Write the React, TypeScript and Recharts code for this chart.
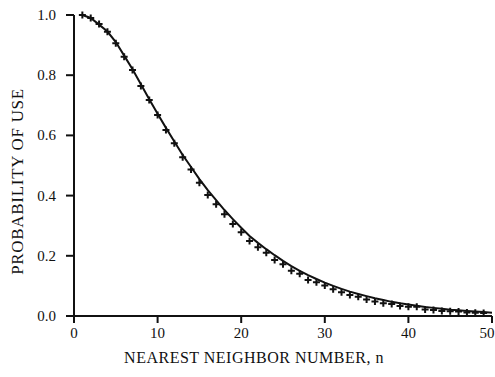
import React from 'react';
import { ComposedChart, Line, XAxis, YAxis, Label } from 'recharts';

const neighborN = [
  1, 2, 3, 4, 5, 6, 7, 8, 9, 10, 11, 12, 13, 14, 15, 16, 17, 18, 19, 20, 21, 22, 23, 24, 25,
  26, 27, 28, 29, 30, 31, 32, 33, 34, 35, 36, 37, 38, 39, 40, 41, 42, 43, 44, 45, 46, 47, 48, 49, 50,
];
const observed = [
  1.0, 0.99, 0.97, 0.944, 0.906, 0.861, 0.817, 0.764, 0.718, 0.668, 0.618, 0.574, 0.527, 0.487, 0.443,
  0.402, 0.371, 0.338, 0.306, 0.278, 0.249, 0.228, 0.21, 0.186, 0.172, 0.15, 0.14, 0.12, 0.112, 0.101,
  0.089, 0.079, 0.07, 0.064, 0.055, 0.048, 0.042, 0.04, 0.033, 0.031, 0.031, 0.022, 0.02, 0.017, 0.016,
  0.015, 0.012, 0.011, 0.01, null,
];
const fitted = [
  1.0, 0.99, 0.968, 0.945, 0.91, 0.865, 0.82, 0.77, 0.72, 0.672, 0.625, 0.58, 0.535, 0.495, 0.455,
  0.418, 0.385, 0.352, 0.322, 0.293, 0.266, 0.243, 0.222, 0.202, 0.183, 0.166, 0.15, 0.136, 0.123, 0.111,
  0.1, 0.09, 0.081, 0.073, 0.066, 0.059, 0.053, 0.047, 0.042, 0.038, 0.034, 0.03, 0.027, 0.024, 0.021,
  0.019, 0.017, 0.015, 0.013, 0.011,
];
const xTicks = [0, 10, 20, 30, 40, 50];
const yTicks = [0, 0.2, 0.4, 0.6, 0.8, 1.0];

const data = neighborN.map((n, i) => ({ n, obs: observed[i], fit: fitted[i] }));

const FONT = '"Liberation Serif", "DejaVu Serif", serif';
const INK = '#111111';

const PlusDot = (props: any) => {
  const { cx, cy, value } = props;
  if (value == null || cx == null || cy == null) return null;
  return (
    <path
      key={`p-${cx}`}
      d={`M${cx - 3.5},${cy} H${cx + 3.5} M${cx},${cy - 3.5} V${cy + 3.5}`}
      stroke={INK}
      strokeWidth={2}
    />
  );
};

// serif tick labels, drawn by hand so the font sticks
const XTick = ({ x, y, payload }: any) => (
  <text x={x} y={y} dy={11} textAnchor="middle" fill={INK} fontSize={15} fontFamily={FONT}>
    {payload.value}
  </text>
);
const YTick = ({ x, y, payload }: any) => (
  <text x={x} y={y} dy={5} textAnchor="end" fill={INK} fontSize={15} fontFamily={FONT}>
    {Number(payload.value).toFixed(1)}
  </text>
);

export default function App() {
  return (
    <div style={{ position: 'absolute', left: 0, top: 0, background: '#fff', fontFamily: FONT }}>
      <ComposedChart
        width={495}
        height={377}
        data={data}
        margin={{ top: 15, right: 3, bottom: 0, left: 0 }}
        style={{ fontFamily: FONT }}
      >
        <XAxis
          dataKey="n"
          type="number"
          domain={[0, 50]}
          ticks={xTicks}
          height={61}
          axisLine={{ stroke: INK, strokeWidth: 2 }}
          tickLine={{ stroke: INK, strokeWidth: 2 }}
          tickSize={7}
          tickMargin={4}
          tick={<XTick />}
        >
          <Label
            value="NEAREST NEIGHBOR NUMBER, n"
            position="insideBottom"
            offset={14}
            dx={-29}
            style={{ fill: INK, fontSize: 16, fontFamily: FONT, letterSpacing: 0.5 }}
          />
        </XAxis>
        <YAxis
          type="number"
          domain={[0, 1]}
          ticks={yTicks}
          width={74}
          axisLine={{ stroke: INK, strokeWidth: 2 }}
          tickLine={{ stroke: INK, strokeWidth: 2 }}
          tickSize={8}
          tickMargin={10}
          tick={<YTick />}
        >
          <Label
            value="PROBABILITY OF USE"
            angle={-90}
            position="insideLeft"
            offset={17}
            dy={16}
            style={{ fill: INK, fontSize: 17, fontFamily: FONT, textAnchor: 'middle', letterSpacing: 0.7 }}
          />
        </YAxis>
        <Line
          dataKey="fit"
          type="linear"
          stroke={INK}
          strokeWidth={2}
          dot={false}
          activeDot={false}
          isAnimationActive={false}
        />
        <Line
          dataKey="obs"
          type="linear"
          stroke="none"
          dot={<PlusDot />}
          activeDot={false}
          connectNulls={false}
          isAnimationActive={false}
        />
      </ComposedChart>
    </div>
  );
}
